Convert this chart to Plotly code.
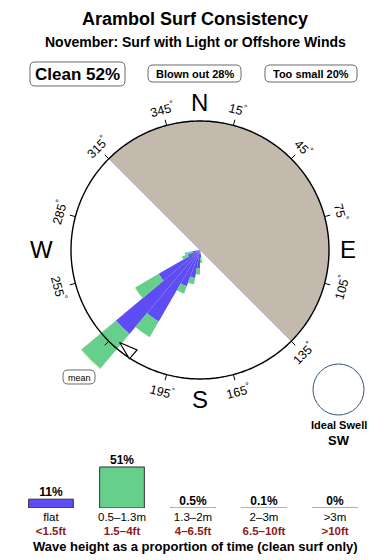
import numpy as np
import plotly.graph_objects as go

W, H = 390, 560
FONT = "Liberation Sans, Arial, Helvetica, sans-serif"

# ---------------- data ----------------
title = "Arambol Surf Consistency"
subtitle = "November: Surf with Light or Offshore Winds"
clean_pct, blown_pct, small_pct = 52, 28, 20

# swell rose (radius relative to the compass ring)
directions = [175, 185, 195, 205, 215, 225, 235, 245, 255]
flat_r = [0.06, 0.14, 0.22, 0.30, 0.64, 0.85, 0.37, 0.10, 0.06]
small_wave_r = [0.04, 0.05, 0.05, 0.06, 0.14, 0.35, 0.21, 0.05, 0.06]
mid_wave_r = [0, 0, 0, 0, 0, 0.007, 0.005, 0, 0]
bin_width = 10

# offshore / blown-out wind sector
sector_from, sector_to = 315, 135
mean_dir, mean_r = 221, 0.95

tick_angles = [15, 45, 75, 105, 135, 165, 195, 225, 255, 285, 315, 345]
label_angles = [15, 45, 75, 105, 135, 165, 195, 255, 285, 315, 345]
compass = ["N", "E", "S", "W"]
compass_angles = [0, 90, 180, 270]
compass_r = [1.14, 1.15, 1.16, 1.23]

ideal_swell = "SW"

# wave height legend
wave_labels = ["flat", "0.5–1.3m", "1.3–2m", "2–3m", "&gt;3m"]
wave_ft = ["&lt;1.5ft", "1.5–4ft", "4–6.5ft", "6.5–10ft", "&gt;10ft"]
wave_pct = [11, 51, 0.5, 0.1, 0]
wave_pct_text = ["11%", "51%", "0.5%", "0.1%", "0%"]
wave_colors = ["#5d4df2", "#66cf8c", "#a6bfa6", "#b3bba5", "#c3a5a2"]

BLUE, GREEN, MIDC = "#5d4df2", "#66cf8c", "#c2e27a"
SECTOR = "#c4b9ad"

# ---------------- geometry ----------------
CX, CY, R0, RMAX = 200, 250, 129, 1.25
RO = R0 * RMAX


def to_paper(px, py):
    return px / W, 1 - py / H


def polar_paper(r, th):
    t = np.radians(th)
    return to_paper(CX + r * R0 * np.sin(t), CY - r * R0 * np.cos(t))


def rounded_box(x0, y0, x1, y1, rad):
    pts = [("M", x0 + rad, y0), ("L", x1 - rad, y0), ("Q", x1, y0, x1, y0 + rad),
           ("L", x1, y1 - rad), ("Q", x1, y1, x1 - rad, y1), ("L", x0 + rad, y1),
           ("Q", x0, y1, x0, y1 - rad), ("L", x0, y0 + rad), ("Q", x0, y0, x0 + rad, y0)]
    s = ""
    for p in pts:
        cmd, coords = p[0], p[1:]
        parts = []
        for i in range(0, len(coords), 2):
            a, b = to_paper(coords[i], coords[i + 1])
            parts.append(f"{a:.5f},{b:.5f}")
        s += cmd + " " + " ".join(parts) + " "
    return s + "Z"


fig = go.Figure()

# sector
sec_width = (sector_to - sector_from) % 360
fig.add_trace(go.Barpolar(r=[1.0], theta=[(sector_from + sec_width / 2) % 360], width=[sec_width],
                          marker=dict(color=SECTOR, line=dict(color="#a9b6c4", width=0.8)),
                          showlegend=False, hoverinfo="skip"))
# stacked swell bars
for vals, col in [(flat_r, BLUE), (small_wave_r, GREEN), (mid_wave_r, MIDC)]:
    fig.add_trace(go.Barpolar(r=vals, theta=directions, width=[bin_width] * len(directions),
                              marker=dict(color=col, line=dict(width=0)),
                              showlegend=False, hoverinfo="skip"))
# ring
ring_t = np.arange(0, 361, 1)
fig.add_trace(go.Scatterpolar(r=[1.0] * len(ring_t), theta=ring_t, mode="lines",
                              line=dict(color="black", width=1.4), showlegend=False, hoverinfo="skip"))
# ticks
tr, tt = [], []
for a in tick_angles:
    tr += [1.0, 1.045, None]
    tt += [a, a, None]
fig.add_trace(go.Scatterpolar(r=tr, theta=tt, mode="lines", line=dict(color="black", width=1),
                              showlegend=False, hoverinfo="skip"))
# mean arrow
fig.add_trace(go.Scatterpolar(r=[mean_r], theta=[mean_dir], mode="markers",
                              marker=dict(symbol="arrow", size=19, color="white", angle=(mean_dir + 90) % 360,
                                          line=dict(color="black", width=1.2)),
                              showlegend=False, hoverinfo="skip", cliponaxis=False))

annotations = []
# degree labels
for a in label_angles:
    x, y = polar_paper(1.13, a)
    ang = a if (a < 90 or a > 270) else a - 180
    if ang > 180:
        ang -= 360
    annotations.append(dict(x=x, y=y, xref="paper", yref="paper", text=f"{a}<sup>°</sup>", showarrow=False,
                            textangle=ang, xanchor="center", yanchor="middle",
                            font=dict(size=12.5, color="black", family=FONT)))
for c, a, r in zip(compass, compass_angles, compass_r):
    x, y = polar_paper(r, a)
    annotations.append(dict(x=x, y=y, xref="paper", yref="paper", text=c, showarrow=False,
                            xanchor="center", yanchor="middle", font=dict(size=24, color="black", family=FONT)))

# titles
annotations += [
    dict(x=0.5, y=1 - 19 / H, xref="paper", yref="paper", text=f"<b>{title}</b>", showarrow=False,
         xanchor="center", yanchor="middle", font=dict(size=18, color="black", family=FONT)),
    dict(x=0.5, y=1 - 42 / H, xref="paper", yref="paper", text=f"<b>{subtitle}</b>", showarrow=False,
         xanchor="center", yanchor="middle", font=dict(size=14, color="black", family=FONT)),
]
boxes = [((30, 62, 125, 86), f"<b>Clean {clean_pct}%</b>", 17),
         ((148, 65, 241, 82), f"<b>Blown out {blown_pct}%</b>", 11),
         ((265, 65, 357, 82), f"<b>Too small {small_pct}%</b>", 11),
         ((63, 370, 95, 384), "mean", 9)]
shapes = []
for (x0, y0, x1, y1), txt, fs in boxes:
    shapes.append(dict(type="path", path=rounded_box(x0, y0, x1, y1, 5), xref="paper", yref="paper",
                       line=dict(color="#444", width=0.8)))
    x, y = to_paper((x0 + x1) / 2, (y0 + y1) / 2 + 0.5)
    annotations.append(dict(x=x, y=y, xref="paper", yref="paper", text=txt, showarrow=False,
                            xanchor="center", yanchor="middle", font=dict(size=fs, color="black", family=FONT)))

# ideal swell
cx0, cy0 = to_paper(313, 364)
cx1, cy1 = to_paper(364, 415)
shapes.append(dict(type="circle", xref="paper", yref="paper", x0=cx0, x1=cx1, y0=cy1, y1=cy0,
                   line=dict(color="#34557d", width=1)))
x, y = to_paper(338.5, 425)
annotations.append(dict(x=x, y=y, xref="paper", yref="paper", text="<b>Ideal Swell</b>", showarrow=False,
                        xanchor="center", yanchor="middle", font=dict(size=11, color="black", family=FONT)))
x, y = to_paper(338.5, 440)
annotations.append(dict(x=x, y=y, xref="paper", yref="paper", text=f"<b>{ideal_swell}</b>", showarrow=False,
                        xanchor="center", yanchor="middle", font=dict(size=13, color="black", family=FONT)))
x, y = to_paper(195, 546)
annotations.append(dict(x=x, y=y, xref="paper", yref="paper",
                        text="<b>Wave height as a proportion of time (clean surf only)</b>", showarrow=False,
                        xanchor="center", yanchor="middle", font=dict(size=13, color="black", family=FONT)))

# wave-height legend as bar chart
idx = list(range(len(wave_pct)))
fig.add_trace(go.Bar(x=idx, y=wave_pct, width=0.63, marker=dict(color=wave_colors, line=dict(color="#333", width=1)),
                     xaxis="x", yaxis="y", showlegend=False, hoverinfo="skip"))
for i in idx[2:]:
    fig.add_trace(go.Scatter(x=[i - 0.315, i + 0.315], y=[0, 0], mode="lines",
                             line=dict(color=wave_colors[i], width=2), xaxis="x", yaxis="y",
                             showlegend=False, hoverinfo="skip"))
fig.add_trace(go.Scatter(x=idx, y=wave_pct, mode="text", text=[f"<b>{t}</b>" for t in wave_pct_text],
                         textposition="top center", textfont=dict(size=12, color="black", family=FONT),
                         xaxis="x", yaxis="y", showlegend=False, hoverinfo="skip", cliponaxis=False))

ticktext = [f"{l}<br><b><span style='color:#8b1a1a'>{f}</span></b>" for l, f in zip(wave_labels, wave_ft)]

pd0 = to_paper(CX - RO, CY - RO)
pd1 = to_paper(CX + RO, CY + RO)

fig.update_layout(
    width=W, height=H, margin=dict(l=0, r=0, t=0, b=0),
    paper_bgcolor="white", plot_bgcolor="rgba(0,0,0,0)",
    font=dict(family=FONT, color="black"),
    polar=dict(domain=dict(x=[pd0[0], pd1[0]], y=[pd1[1], pd0[1]]),
               bgcolor="rgba(0,0,0,0)", barmode="stack", bargap=0,
               angularaxis=dict(rotation=90, direction="clockwise", showline=False, showgrid=False,
                                showticklabels=False, ticks=""),
               radialaxis=dict(range=[0, RMAX], visible=False, showgrid=False, showline=False)),
    xaxis=dict(domain=[15.5 / W, 370.5 / W], range=[-0.5, 4.5], tickmode="array", tickvals=idx,
               ticktext=ticktext, showgrid=False, zeroline=False, showline=False, ticks="",
               tickfont=dict(size=11.5, color="black", family=FONT), fixedrange=True),
    yaxis=dict(domain=[(H - 508) / H, (H - 460) / H], range=[0, 59.7], visible=False, fixedrange=True),
    annotations=annotations, shapes=shapes, showlegend=False,
)

fig.write_html("out.html")
